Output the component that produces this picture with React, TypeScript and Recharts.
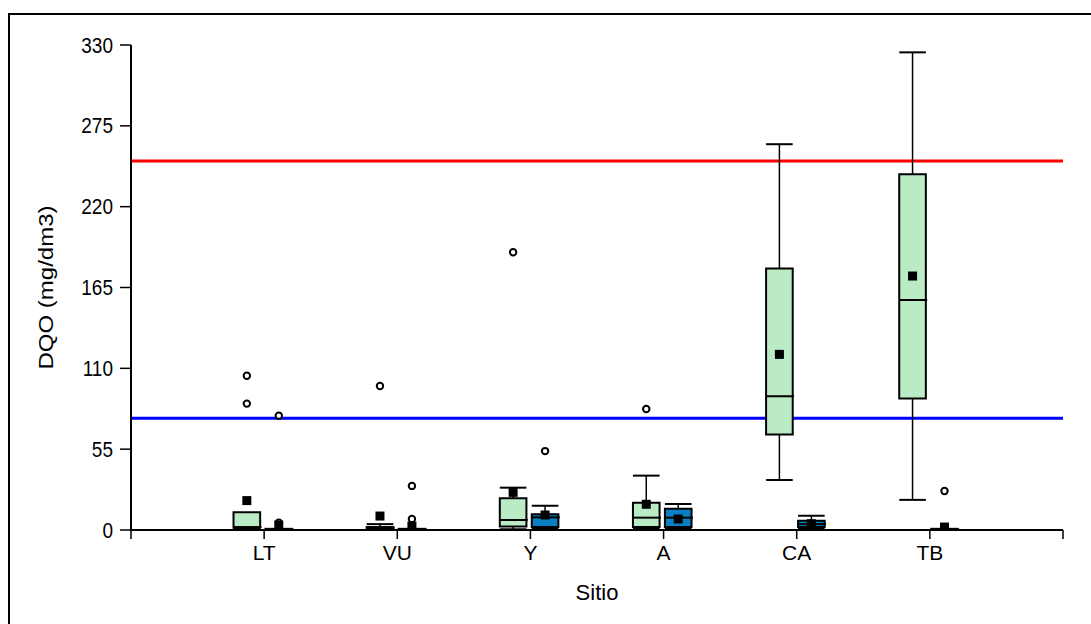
import { ComposedChart, XAxis, YAxis, Scatter, ReferenceArea, ReferenceLine } from 'recharts'

const sites = ['LT', 'VU', 'Y', 'A', 'CA', 'TB']
const xTicks = [0, 1, 2, 3, 4, 5, 6, 7]
const yTicks = [0, 55, 110, 165, 220, 275, 330]

// left (green) box of each site
const greenMin = [1, 0.5, 0.5, 1, 34, 20.5]
const greenQ1 = [1.5, 1, 2.3, 2, 65, 89.5]
const greenMedian = [2, 1.5, 6.8, 8.4, 91, 156.5]
const greenQ3 = [12, 2, 21.6, 18.6, 178, 242]
const greenMax = [12, 4, 28.8, 37, 262.5, 325]
const greenMean = [20, 9.5, 25.6, 17.5, 119.5, 172.8]
const greenOutlierSite = ['LT', 'LT', 'VU', 'Y', 'A']
const greenOutlierValue = [105, 86, 98, 189, 82.3]

// right (blue) box of each site
const blueMin = [0, 0, 1, 1, 1, 0]
const blueQ1 = [0.5, 0.5, 2, 2, 2, 0.5]
const blueMedian = [0.5, 0.5, 8.6, 8.4, 4, 0.5]
const blueQ3 = [0.8, 0.8, 10.7, 14.5, 6.3, 0.8]
const blueMax = [0.8, 0.8, 16.5, 17.7, 9.7, 0.8]
const blueMean = [3.3, 2.7, 10.2, 7.5, 4.3, 2]
const blueOutlierSite = ['LT', 'LT', 'VU', 'VU', 'Y', 'TB']
const blueOutlierValue = [77.8, 5, 30, 7.5, 53.7, 26.5]

// limit lines
const upperLimit = 251
const lowerLimit = 76

const GREEN = '#bbebc5'
const BLUE = '#0a80c4'
const HALF = 0.1
const FONT = 'Liberation Sans, Arial, sans-serif'

const siteX = (s: string) => sites.indexOf(s) + 1

function buildBoxes(min: number[], q1: number[], med: number[], q3: number[], max: number[], mean: number[], offset: number) {
    return sites.map((s, i) => ({
        x: i + 1 + offset, min: min[i], q1: q1[i], med: med[i], q3: q3[i], max: max[i], mean: mean[i]
    }))
}

const greenBoxes = buildBoxes(greenMin, greenQ1, greenMedian, greenQ3, greenMax, greenMean, -0.13)
const blueBoxes = buildBoxes(blueMin, blueQ1, blueMedian, blueQ3, blueMax, blueMean, 0.11)

const means = [...greenBoxes, ...blueBoxes].map(b => ({ x: b.x, y: b.mean }))
const outliers = [
    ...greenOutlierSite.map((s, i) => ({ x: siteX(s) - 0.13, y: greenOutlierValue[i] })),
    ...blueOutlierSite.map((s, i) => ({ x: siteX(s) + 0.11, y: blueOutlierValue[i] })),
]

const YTick = ({ x, y, payload }: any) => (
    <g transform={`translate(${x},${y})`}>
        <text transform="scale(1,1.15)" textAnchor="end" dy="0.35em" fontSize={19} fontFamily={FONT} fill="#000">
            {payload.value}
        </text>
    </g>
)

const XTick = ({ x, y, payload }: any) => (
    <text x={x} y={y} textAnchor="middle" dy="0.71em" fontSize={21} fontFamily={FONT} fill="#000">
        {sites[payload.value - 1] ?? ''}
    </text>
)

const YLabel = ({ viewBox }: any) => (
    <text
        transform={`translate(${viewBox.x + 2},${viewBox.y + viewBox.height / 2}) rotate(-90) scale(1.2,1)`}
        textAnchor="middle" fontSize={20} fontFamily={FONT} fill="#000"
    >
        DQO (mg/dm3)
    </text>
)

function renderBox(b: any, color: string, key: string) {
    const els = []
    if (b.max > b.q3) {
        els.push(<ReferenceLine key={key + 'uw'} zIndex={460} segment={[{ x: b.x, y: b.q3 }, { x: b.x, y: b.max }]} stroke="#000" strokeWidth={1.5} />)
        els.push(<ReferenceLine key={key + 'uc'} zIndex={460} segment={[{ x: b.x - HALF, y: b.max }, { x: b.x + HALF, y: b.max }]} stroke="#000" strokeWidth={2} />)
    }
    if (b.min < b.q1) {
        els.push(<ReferenceLine key={key + 'lw'} zIndex={460} segment={[{ x: b.x, y: b.q1 }, { x: b.x, y: b.min }]} stroke="#000" strokeWidth={1.5} />)
        els.push(<ReferenceLine key={key + 'lc'} zIndex={460} segment={[{ x: b.x - HALF, y: b.min }, { x: b.x + HALF, y: b.min }]} stroke="#000" strokeWidth={2} />)
    }
    els.push(<ReferenceArea key={key + 'box'} zIndex={470} x1={b.x - HALF} x2={b.x + HALF} y1={b.q1} y2={b.q3} fill={color} fillOpacity={1} stroke="#000" strokeWidth={2} />)
    els.push(<ReferenceLine key={key + 'med'} zIndex={480} segment={[{ x: b.x - HALF, y: b.med }, { x: b.x + HALF + 0.01, y: b.med }]} stroke="#000" strokeWidth={2} />)
    return els
}

export default function App() {
    return (
        <div style={{ position: 'relative', width: 1091, height: 624, overflow: 'hidden', background: '#fff' }}>
            <style>{'body{margin:0}'}</style>
            <div style={{ position: 'absolute', left: 8, top: 13, width: 1200, height: 700, borderLeft: '2px solid #000', borderTop: '2px solid #000' }} />
            <div style={{ position: 'absolute', left: 0, top: 0 }}>
                <ComposedChart width={1091} height={624} margin={{ top: 45, right: 28, left: 51, bottom: 24 }}>
                    <XAxis
                        type="number" dataKey="x" domain={[0, 7]} ticks={xTicks} interval={0}
                        allowDataOverflow tick={<XTick />} tickSize={9} tickMargin={6} height={70}
                        axisLine={{ stroke: '#000', strokeWidth: 2 }} tickLine={{ stroke: '#000', strokeWidth: 1.5 }}
                        label={{ value: 'Sitio', position: 'insideBottom', offset: 0, fontSize: 22, fontFamily: FONT, fill: '#000' }}
                    />
                    <YAxis
                        type="number" domain={[0, 330]} ticks={yTicks} interval={0} allowDataOverflow
                        tick={<YTick />} tickSize={11} tickMargin={7} width={80}
                        axisLine={{ stroke: '#000', strokeWidth: 2 }} tickLine={{ stroke: '#000', strokeWidth: 1.5 }}
                        label={{ content: <YLabel /> }}
                    />
                    <ReferenceLine y={upperLimit} stroke="#ff0000" strokeWidth={3} zIndex={440} />
                    <ReferenceLine y={lowerLimit} stroke="#0000ff" strokeWidth={3} zIndex={440} />
                    {greenBoxes.map((b, i) => renderBox(b, GREEN, 'g' + i))}
                    {blueBoxes.map((b, i) => renderBox(b, BLUE, 'b' + i))}
                    <Scatter
                        data={outliers} dataKey="y" isAnimationActive={false} zIndex={600}
                        shape={(p: any) => <circle cx={p.cx} cy={p.cy} r={3.2} fill="#fff" stroke="#000" strokeWidth={2} />}
                    />
                    <Scatter
                        data={means} dataKey="y" isAnimationActive={false} zIndex={610}
                        shape={(p: any) => <rect x={p.cx - 4.5} y={p.cy - 4.5} width={9} height={9} fill="#000" />}
                    />
                </ComposedChart>
            </div>
        </div>
    )
}
